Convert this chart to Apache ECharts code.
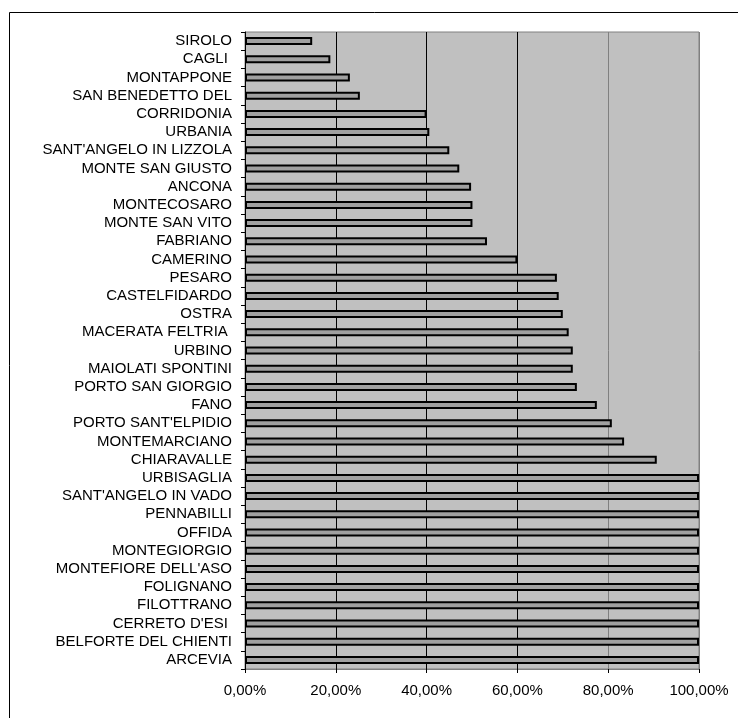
<!DOCTYPE html>
<html>
<head>
    <meta charset="utf-8"/>
    <title></title>
    <script src="https://cdn.jsdelivr.net/npm/echarts@6/dist/echarts.min.js"></script>
    <style>
        html, body { margin: 0; padding: 0; background: #fff; }
        #main { width: 738px; height: 718px; }
    </style>
</head>
<body>
<div id="main"></div>
<script type="text/javascript">
    /* comuni, dall'alto verso il basso */
    var comuni = ['SIROLO', 'CAGLI ', 'MONTAPPONE', 'SAN BENEDETTO DEL', 'CORRIDONIA', 'URBANIA',
        "SANT'ANGELO IN LIZZOLA", 'MONTE SAN GIUSTO', 'ANCONA', 'MONTECOSARO', 'MONTE SAN VITO',
        'FABRIANO', 'CAMERINO', 'PESARO', 'CASTELFIDARDO', 'OSTRA', 'MACERATA FELTRIA ', 'URBINO',
        'MAIOLATI SPONTINI', 'PORTO SAN GIORGIO', 'FANO', "PORTO SANT'ELPIDIO", 'MONTEMARCIANO',
        'CHIARAVALLE', 'URBISAGLIA', "SANT'ANGELO IN VADO", 'PENNABILLI', 'OFFIDA', 'MONTEGIORGIO',
        "MONTEFIORE DELL'ASO", 'FOLIGNANO', 'FILOTTRANO', "CERRETO D'ESI ", 'BELFORTE DEL CHIENTI', 'ARCEVIA'];
    /* percentuali */
    var percentuali = [14.8, 18.8, 23.1, 25.3, 40.0, 40.6,
        45.0, 47.2, 49.8, 50.1, 50.1,
        53.3, 60.0, 68.7, 69.1, 70.0, 71.3, 72.2,
        72.2, 73.1, 77.5, 80.8, 83.5,
        90.7, 100, 100, 100, 100, 100,
        100, 100, 100, 100, 100, 100];
    var tickValori = [0, 20, 40, 60, 80, 100];

    var chart = echarts.init(document.getElementById('main'));
    var font = '"Liberation Sans", Arial, sans-serif';

    var option = {
        animation: false,
        backgroundColor: '#fff',
        graphic: [{
            type: 'rect',
            shape: {x: 9.5, y: 12.5, width: 800, height: 800},
            style: {fill: 'none', stroke: '#000', lineWidth: 1},
            silent: true
        }],
        grid: {
            left: 245, top: 32, right: 39, bottom: 49,
            show: true,
            backgroundColor: '#c0c0c0',
            borderColor: '#808080',
            borderWidth: 1
        },
        xAxis: {
            type: 'value',
            min: tickValori[0],
            max: tickValori[tickValori.length - 1],
            interval: 20,
            axisLine: {show: true, lineStyle: {color: '#808080', width: 1}},
            axisTick: {show: true, length: 4, lineStyle: {color: '#000'}},
            splitLine: {show: true, lineStyle: {color: ['#000', '#000', '#000', '#000', '#808080', '#808080'], width: 1}},
            axisLabel: {
                color: '#000', fontSize: 15, fontFamily: font, margin: 14,
                formatter: function (v) { return v.toFixed(2).replace('.', ',') + '%'; }
            }
        },
        yAxis: {
            type: 'category',
            inverse: true,
            data: comuni,
            axisLine: {show: true, lineStyle: {color: '#000', width: 1}},
            axisTick: {show: true, length: 4, lineStyle: {color: '#000'}},
            axisLabel: {color: '#000', fontSize: 15, fontFamily: font, margin: 13, interval: 0},
            splitLine: {show: false}
        },
        series: [{
            type: 'bar',
            data: percentuali,
            barWidth: 8,
            itemStyle: {color: '#a0a0a0', borderColor: '#000', borderWidth: 2}
        }]
    };

    chart.setOption(option);
</script>
</body>
</html>
